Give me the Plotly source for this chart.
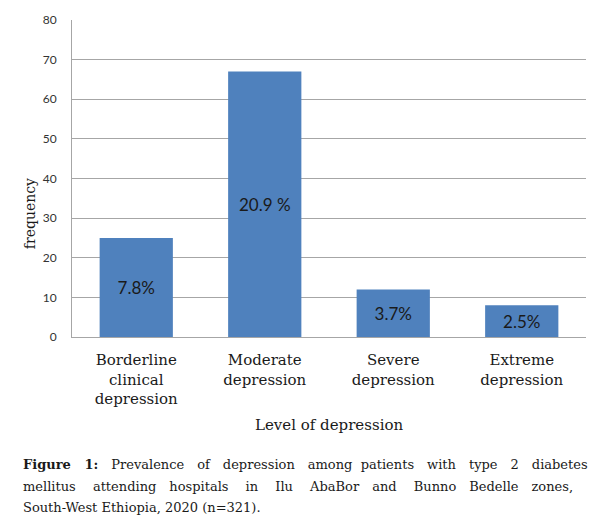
import plotly.graph_objects as go

categories = ["Borderline<br>clinical<br>depression", "Moderate<br>depression",
              "Severe<br>depression", "Extreme<br>depression"]
frequency = [25, 67, 12, 8]
percent_labels = ["7.8%", "20.9 %", "3.7%", "2.5%"]
y_ticks = [0, 10, 20, 30, 40, 50, 60, 70, 80]
caption_words = [
    ["<b>Figure", "1:</b>", "Prevalence", "of", "depression", "among", "patients",
     "with", "type", "2", "diabetes"],
    ["mellitus", "attending", "hospitals", "in", "Ilu", "AbaBor", "and", "Bunno",
     "Bedelle", "zones,"],
    ["South-West", "Ethiopia,", "2020", "(n=321)."],
]

serif = "DejaVu Serif, serif"
sans = "Lato, Open Sans, sans-serif"
ink = "#1a1a1a"

# approximate justified spacing for the caption (last line left ragged)
EM = "\u2003"
NB = "\u00a0"
line1_gaps = [NB * 3, EM, EM, EM, EM, NB * 2, EM, EM, EM, EM]
line2_gaps = [EM + NB, EM, EM + NB, EM + NB, EM + NB, EM, EM + NB, EM, EM]
line3_gaps = [" "] * 3


def join(words, gaps):
    out = words[0]
    for w, g in zip(words[1:], gaps):
        out += g + w
    return out


caption_text = [join(caption_words[0], line1_gaps),
                join(caption_words[1], line2_gaps),
                join(caption_words[2], line3_gaps)]

fig = go.Figure()
fig.add_trace(go.Bar(
    x=list(range(len(categories))),
    y=frequency,
    text=percent_labels,
    textposition="inside",
    insidetextanchor="middle",
    textangle=0,
    textfont=dict(family=sans, size=17, color=ink),
    marker=dict(color="#4F81BD", line=dict(width=0)),
    width=0.57,
    hoverinfo="skip",
))

annotations = [
    dict(text="frequency", xref="paper", yref="paper", x=-0.0817, y=0.3875,
         xanchor="center", yanchor="middle", textangle=-90, showarrow=False,
         font=dict(family=serif, size=14, color=ink)),
    dict(text="Level of depression", xref="paper", yref="paper", x=0.5, y=-0.278,
         xanchor="center", yanchor="middle", showarrow=False,
         font=dict(family=serif, size=15, color=ink)),
]
for line, yy in zip(caption_text, [-0.403, -0.472, -0.5375]):
    annotations.append(dict(text=line, xref="paper", yref="paper", x=-0.0992, y=yy,
                            xanchor="left", yanchor="middle", showarrow=False,
                            font=dict(family=serif, size=13, color=ink)))

fig.update_layout(
    width=604, height=532,
    margin=dict(l=72, r=18, t=17, b=195),
    paper_bgcolor="white", plot_bgcolor="white",
    showlegend=False,
    xaxis=dict(
        tickmode="array",
        tickvals=list(range(len(categories))),
        ticktext=categories,
        range=[-0.5, 3.5],
        showgrid=False,
        showline=True, linecolor="#A6A6A6", linewidth=1,
        ticks="",
        ticklabelstandoff=9,
        tickfont=dict(family=serif, size=15, color=ink),
        fixedrange=True,
    ),
    yaxis=dict(
        range=[0, 80],
        tickvals=y_ticks,
        showgrid=True, gridcolor="#A6A6A6", gridwidth=1,
        showline=True, linecolor="#A6A6A6", linewidth=1,
        zeroline=False,
        ticks="",
        ticklabelstandoff=12,
        tickfont=dict(family=sans, size=12, color="#333333"),
        fixedrange=True,
    ),
    annotations=annotations,
)

fig.write_html("out.html", config={"displayModeBar": False},
               post_script="document.body.style.margin='0';document.body.style.padding='0';")
